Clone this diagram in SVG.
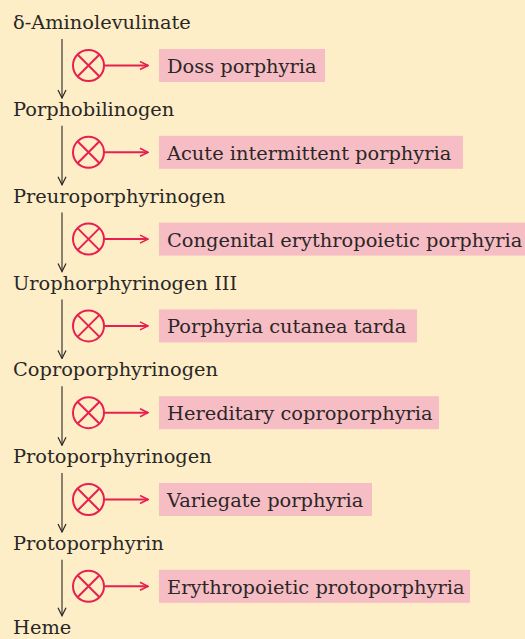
<svg xmlns="http://www.w3.org/2000/svg" width="525" height="639" viewBox="0 0 525 639">
<defs>
<style>
.t{font-family:"DejaVu Serif","Liberation Serif",serif;font-size:19.4px;fill:#2a2726}
.box{fill:#f7bdc5}
.blk{stroke:#2a2726;stroke-width:1.1;fill:none}
.red{stroke:#e8204f;stroke-width:2;fill:none}
</style>
<marker id="ab" viewBox="0 0 10 10" refX="9" refY="5" markerWidth="10" markerHeight="10" markerUnits="userSpaceOnUse" orient="auto">
<path d="M1,1 L9,5 L1,9" fill="none" stroke="#2a2726" stroke-width="1.2"/>
</marker>
<marker id="ar" viewBox="0 0 10 10" refX="9" refY="5" markerWidth="10" markerHeight="10" markerUnits="userSpaceOnUse" orient="auto">
<path d="M1,1 L9,5 L1,9" fill="none" stroke="#e8204f" stroke-width="1.6"/>
</marker>
<g id="blk">
<circle cx="88.5" cy="65.5" r="15.5" class="red"/>
<path d="M77.5,54.5 L99.5,76.5 M99.5,54.5 L77.5,76.5" class="red"/>
</g>
</defs>
<rect width="525" height="639" fill="#fdeec7"/>
<g id="compounds">
<g id="c0"><text class="t" x="13" y="29">δ-Aminolevulinate</text></g>
<g id="c1"><text class="t" x="13" y="116">Porphobilinogen</text></g>
<g id="c2"><text class="t" x="13" y="203">Preuroporphyrinogen</text></g>
<g id="c3"><text class="t" x="13" y="290">Urophorphyrinogen III</text></g>
<g id="c4"><text class="t" x="13" y="376">Coproporphyrinogen</text></g>
<g id="c5"><text class="t" x="13" y="463">Protoporphyrinogen</text></g>
<g id="c6"><text class="t" x="13" y="550">Protoporphyrin</text></g>
<g id="c7"><text class="t" x="13" y="634">Heme</text></g>
</g>
<g id="diseases">
<g id="d0"><rect class="box" x="159" y="49" width="166" height="33"/><text class="t" x="167" y="73">Doss porphyria</text></g>
<g id="d1" transform="translate(0,86.8)"><rect class="box" x="159" y="49" width="304" height="33"/><text class="t" x="167" y="73">Acute intermittent porphyria</text></g>
<g id="d2" transform="translate(0,173.6)"><rect class="box" x="159" y="49" width="370" height="33"/><text class="t" x="167" y="73">Congenital erythropoietic porphyria</text></g>
<g id="d3" transform="translate(0,260.4)"><rect class="box" x="159" y="49" width="258" height="33"/><text class="t" x="167" y="73">Porphyria cutanea tarda</text></g>
<g id="d4" transform="translate(0,347.2)"><rect class="box" x="159" y="49" width="280" height="33"/><text class="t" x="167" y="73">Hereditary coproporphyria</text></g>
<g id="d5" transform="translate(0,434)"><rect class="box" x="159" y="49" width="213" height="33"/><text class="t" x="167" y="73">Variegate porphyria</text></g>
<g id="d6" transform="translate(0,520.8)"><rect class="box" x="159" y="49" width="311" height="33"/><text class="t" x="167" y="73">Erythropoietic protoporphyria</text></g>
</g>
<g id="connectors">
<g id="s0"><path class="blk" d="M62,39 V98" marker-end="url(#ab)"/><use href="#blk"/><path class="red" d="M104,65.5 H148" marker-end="url(#ar)"/></g>
<g id="s1" transform="translate(0,86.8)"><path class="blk" d="M62,39 V98" marker-end="url(#ab)"/><use href="#blk"/><path class="red" d="M104,65.5 H148" marker-end="url(#ar)"/></g>
<g id="s2" transform="translate(0,173.6)"><path class="blk" d="M62,39 V98" marker-end="url(#ab)"/><use href="#blk"/><path class="red" d="M104,65.5 H148" marker-end="url(#ar)"/></g>
<g id="s3" transform="translate(0,260.4)"><path class="blk" d="M62,39 V98" marker-end="url(#ab)"/><use href="#blk"/><path class="red" d="M104,65.5 H148" marker-end="url(#ar)"/></g>
<g id="s4" transform="translate(0,347.2)"><path class="blk" d="M62,39 V98" marker-end="url(#ab)"/><use href="#blk"/><path class="red" d="M104,65.5 H148" marker-end="url(#ar)"/></g>
<g id="s5" transform="translate(0,434)"><path class="blk" d="M62,39 V98" marker-end="url(#ab)"/><use href="#blk"/><path class="red" d="M104,65.5 H148" marker-end="url(#ar)"/></g>
<g id="s6" transform="translate(0,520.8)"><path class="blk" d="M62,39 V95" marker-end="url(#ab)"/><use href="#blk"/><path class="red" d="M104,65.5 H148" marker-end="url(#ar)"/></g>
</g>
</svg>
